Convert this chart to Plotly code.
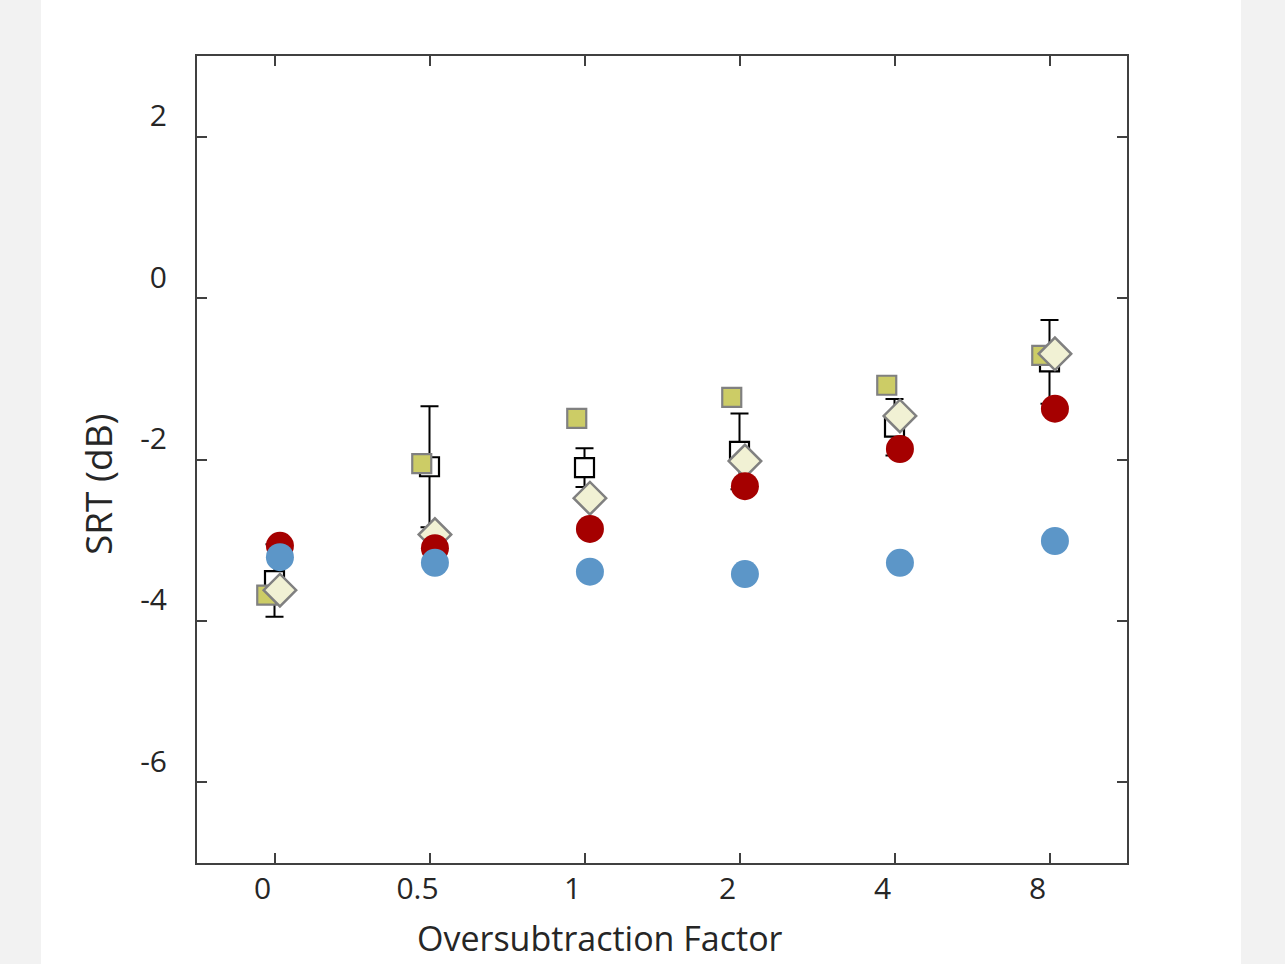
import plotly.graph_objects as go

# ---- data ----
categories = ["0", "0.5", "1", "2", "4", "8"]
open_sq_mean = [-3.50, -2.09, -2.10, -1.90, -1.60, -0.79]
open_sq_err = [0.45, 0.75, 0.24, 0.47, 0.35, 0.52]
yellow_sq = [-3.68, -2.05, -1.49, -1.23, -1.08, -0.71]
diamond = [-3.62, -2.93, -2.48, -2.02, -1.46, -0.69]
red_circle = [-3.07, -3.10, -2.86, -2.33, -1.87, -1.37]
blue_circle = [-3.21, -3.28, -3.39, -3.42, -3.28, -3.01]
y_ticks = [-6, -4, -2, 0, 2]
x_title = "Oversubtraction Factor"
y_title = "SRT (dB)"

idx = list(range(len(categories)))
def dodge(d):
    return [i + d for i in idx]

GREY = "rgb(128,128,128)"
fig = go.Figure()

fig.add_trace(go.Scatter(
    x=dodge(0.0), y=open_sq_mean, mode="markers",
    error_y=dict(type="data", array=open_sq_err, color="black", thickness=2, width=9),
    marker=dict(symbol="square", size=19, color="white", line=dict(color="black", width=2.2)),
    showlegend=False))
fig.add_trace(go.Scatter(
    x=dodge(-0.05), y=yellow_sq, mode="markers",
    marker=dict(symbol="square", size=19, color="rgb(204,204,102)", line=dict(color=GREY, width=2.2)),
    showlegend=False))
fig.add_trace(go.Scatter(
    x=dodge(0.035), y=diamond, mode="markers",
    marker=dict(symbol="diamond", size=25, color="rgb(241,241,212)", line=dict(color=GREY, width=2.5)),
    showlegend=False))
fig.add_trace(go.Scatter(
    x=dodge(0.035), y=red_circle, mode="markers",
    marker=dict(symbol="circle", size=28, color="rgb(165,0,0)", line=dict(width=0)),
    showlegend=False))
fig.add_trace(go.Scatter(
    x=dodge(0.035), y=blue_circle, mode="markers",
    marker=dict(symbol="circle", size=28, color="rgb(92,150,200)", line=dict(width=0)),
    showlegend=False))

FONT = "Open Sans"
AX = "rgb(64,64,64)"
TXT = "rgb(38,38,38)"
PW, PH, L, T = 930, 807, 197, 56
fig.update_layout(
    width=1285, height=964,
    margin=dict(l=L, r=1285 - L - PW, t=T, b=964 - T - PH),
    paper_bgcolor="rgb(242,242,242)",
    plot_bgcolor="white",
    font=dict(family=FONT, color=TXT),
    shapes=[dict(type="rect", xref="paper", yref="paper",
                 x0=(41 - L) / PW, x1=(1241 - L) / PW, y0=-0.2, y1=1.1,
                 fillcolor="white", line=dict(width=0), layer="below")],
    annotations=[
        dict(text=x_title, xref="paper", yref="paper",
             x=(600 - L) / PW, y=(T + PH - 938) / PH, xanchor="center", yanchor="middle",
             showarrow=False, font=dict(size=34, family=FONT, color=TXT)),
        dict(text=y_title, xref="paper", yref="paper", textangle=-90,
             x=(97 - L) / PW, y=(T + PH - 485) / PH, xanchor="center", yanchor="middle",
             showarrow=False, font=dict(size=37, family=FONT, color=TXT)),
    ],
)
fig.update_xaxes(
    range=[-0.5, 5.5], tickmode="array", tickvals=idx, ticktext=categories,
    showgrid=False, zeroline=False, showline=True, linecolor=AX, linewidth=2, mirror="ticks",
    ticks="inside", ticklen=10, tickwidth=2, tickcolor=AX,
    tickfont=dict(size=30, family=FONT, color=TXT),
    ticklabelshift=-12, ticklabelstandoff=-2,
)
fig.update_yaxes(
    range=[-7, 3], tickmode="array", tickvals=y_ticks, ticktext=[str(v) for v in y_ticks],
    showgrid=False, zeroline=False, showline=True, linecolor=AX, linewidth=2, mirror="ticks",
    ticks="inside", ticklen=10, tickwidth=2, tickcolor=AX,
    tickfont=dict(size=30, family=FONT, color=TXT),
    ticklabelshift=-21, ticklabelstandoff=22,
)

fig.write_html(
    "out.html",
    config={"displayModeBar": False},
    post_script="document.body.style.margin='0';document.body.style.background='rgb(242,242,242)';",
)
